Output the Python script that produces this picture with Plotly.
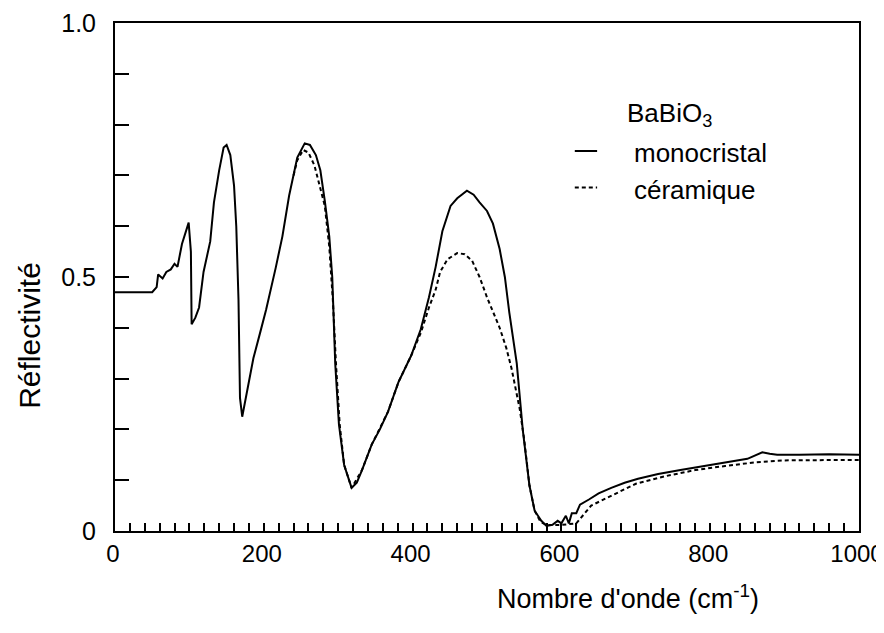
import plotly.graph_objects as go

# ── Data ─────────────────────────────────────────────────────────────────────
mono_x = [0, 50, 56, 58, 64, 69, 75, 80, 84, 90, 99, 102, 103, 108, 113, 119,
          128, 133, 140, 146, 150, 155, 160, 163, 166, 168, 171, 179, 186, 195,
          203, 216, 225, 234, 245, 255, 262, 270, 276, 282, 288, 292, 296, 301,
          308, 318, 325, 332, 345, 356, 367, 381, 398, 411, 422, 431, 440, 451,
          460, 473, 482, 490, 500, 508, 517, 524, 530, 540, 548, 557, 564, 573,
          580, 588, 595, 600, 606, 610, 614, 620, 625, 637, 650, 667, 685, 703,
          730, 760, 790, 820, 850, 870, 880, 890, 920, 960, 1000]
mono_y = [0.47, 0.47, 0.48, 0.505, 0.497, 0.51, 0.515, 0.526, 0.52, 0.565,
          0.607, 0.55, 0.407, 0.42, 0.44, 0.51, 0.57, 0.647, 0.71, 0.755, 0.76,
          0.74, 0.68, 0.6, 0.455, 0.262, 0.225, 0.29, 0.34, 0.39, 0.435, 0.518,
          0.58, 0.66, 0.735, 0.763, 0.76, 0.74, 0.71, 0.65, 0.58, 0.50, 0.33,
          0.21, 0.13, 0.085, 0.095, 0.12, 0.17, 0.2, 0.235, 0.293, 0.345,
          0.397, 0.46, 0.52, 0.59, 0.64, 0.655, 0.67, 0.662, 0.647, 0.63, 0.605,
          0.555, 0.50, 0.43, 0.33, 0.20, 0.09, 0.04, 0.02, 0.01, 0.012, 0.02,
          0.015, 0.03, 0.015, 0.035, 0.035, 0.052, 0.062, 0.074, 0.085, 0.095,
          0.103, 0.112, 0.12, 0.128, 0.135, 0.142, 0.155, 0.152, 0.15, 0.15,
          0.151, 0.15]

cera_x = [240, 245, 253, 260, 268, 275, 282, 288, 293, 297, 302, 308, 318, 332,
          345, 367, 381, 398, 411, 422, 431, 437, 447, 460, 470, 480, 490, 500,
          508, 517, 526, 533, 544, 550, 557, 564, 572, 580, 600, 620, 640, 667,
          700, 740, 780, 820, 860, 900, 950, 1000]
cera_y = [0.70, 0.73, 0.75, 0.745, 0.72, 0.68, 0.64, 0.56, 0.45, 0.33, 0.21,
          0.13, 0.085, 0.12, 0.17, 0.235, 0.293, 0.345, 0.39, 0.44, 0.475,
          0.51, 0.535, 0.547, 0.545, 0.532, 0.50, 0.46, 0.43, 0.40, 0.36, 0.32,
          0.24, 0.18, 0.09, 0.04, 0.018, 0.012, 0.012, 0.015, 0.05, 0.07,
          0.093, 0.108, 0.12, 0.128, 0.135, 0.139, 0.14, 0.14]

x_ticks = [0, 200, 400, 600, 800, 1000]
y_ticks = [0, 0.5, 1.0]
y_tick_text = ["0", "0.5", "1.0"]

INK = "black"
FONT = "Liberation Sans, Arial, sans-serif"

fig = go.Figure()
fig.add_trace(go.Scatter(x=mono_x, y=mono_y, mode="lines", name="monocristal",
                         line=dict(color=INK, width=2)))
fig.add_trace(go.Scatter(x=cera_x, y=cera_y, mode="lines", name="céramique",
                         line=dict(color=INK, width=2, dash="4px,3px")))

fig.update_layout(
    width=884, height=633,
    paper_bgcolor="white", plot_bgcolor="white",
    margin=dict(l=107, r=33, t=15, b=110),
    showlegend=False,
    font=dict(family=FONT, color=INK, size=25),
)

fig.update_xaxes(
    range=[0, 1000], tickvals=x_ticks, ticks="inside", ticklen=8, tickwidth=2,
    tickcolor=INK, showline=True, linecolor=INK, linewidth=2, mirror=True,
    showgrid=False, zeroline=False, tickfont=dict(size=24),
    ticklabeloverflow="allow", ticklabelshift=-2, automargin=False,
    minor=dict(dtick=20, ticks="inside", ticklen=8, tickwidth=2, tickcolor=INK,
               showgrid=False),
)
fig.update_yaxes(
    range=[0, 1], tickvals=y_ticks, ticktext=y_tick_text, ticks="inside",
    ticklen=14, tickwidth=2, tickcolor=INK, showline=True, linecolor=INK,
    linewidth=2, mirror=True, showgrid=False, zeroline=False,
    tickfont=dict(size=25), ticklabelstandoff=12, ticklabeloverflow="allow",
    automargin=False,
    minor=dict(dtick=0.1, ticks="inside", ticklen=14, tickwidth=2,
               tickcolor=INK, showgrid=False),
)

# axis titles (off-centre in the original)
fig.add_annotation(text="Nombre d'onde (cm<sup>-1</sup>)", xref="paper",
                   yref="paper", x=0.69, y=-0.13, showarrow=False,
                   xanchor="center", yanchor="middle", font=dict(size=27))
fig.add_annotation(text="Réflectivité", xref="paper", yref="paper",
                   x=-0.115, y=0.385, textangle=-90, showarrow=False,
                   xanchor="center", yanchor="middle", font=dict(size=30))

# legend block
fig.add_annotation(text="BaBiO<sub>3</sub>", xref="paper", yref="paper",
                   x=0.685, y=0.82, showarrow=False, xanchor="left",
                   yanchor="middle", font=dict(size=26))
fig.add_annotation(text="monocristal", xref="paper", yref="paper",
                   x=0.695, y=0.744, showarrow=False, xanchor="left",
                   yanchor="middle", font=dict(size=26))
fig.add_annotation(text="céramique", xref="paper", yref="paper",
                   x=0.695, y=0.672, showarrow=False, xanchor="left",
                   yanchor="middle", font=dict(size=26))
fig.add_shape(type="line", xref="paper", yref="paper", x0=0.618, x1=0.648,
              y0=0.748, y1=0.748, line=dict(color=INK, width=2))
fig.add_shape(type="line", xref="paper", yref="paper", x0=0.618, x1=0.648,
              y0=0.676, y1=0.676, line=dict(color=INK, width=2, dash="4px,3px"))

fig.write_html("out.html")
